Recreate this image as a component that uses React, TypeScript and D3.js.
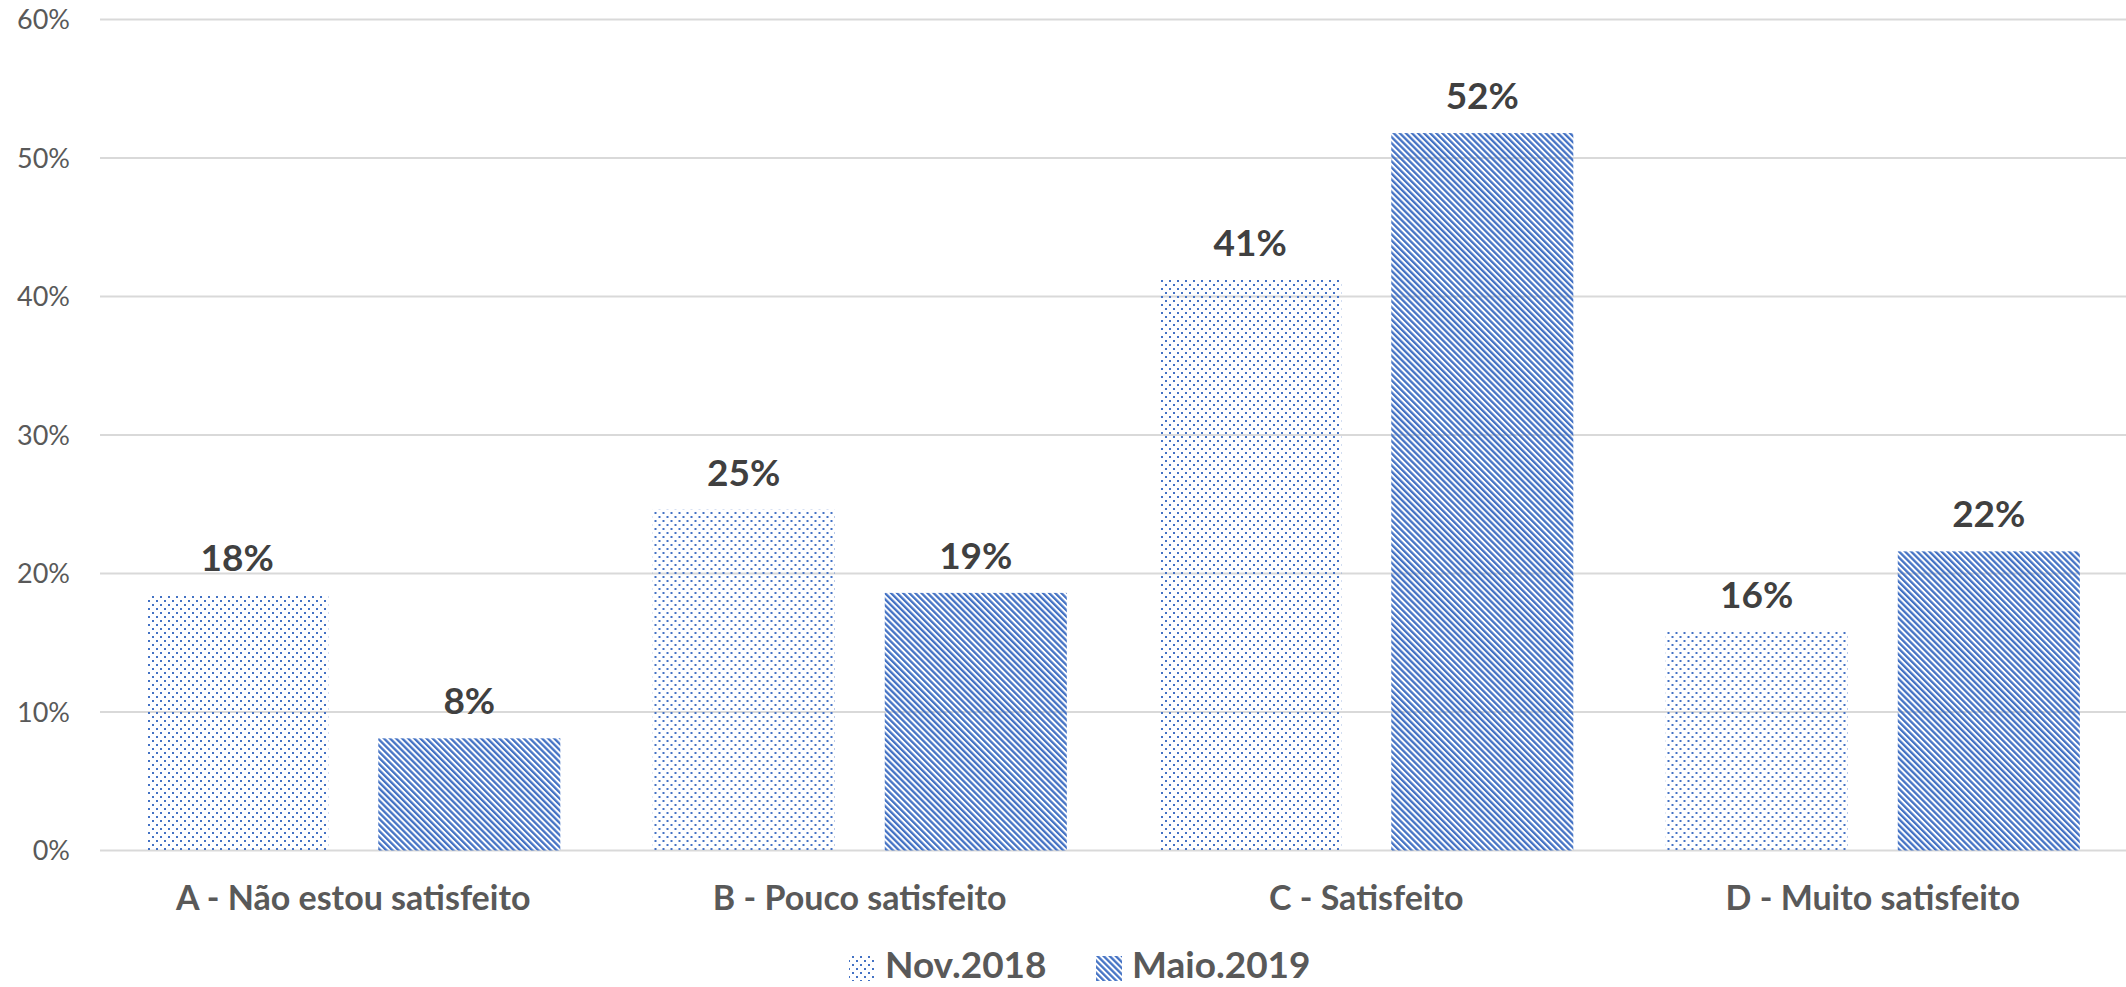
import * as d3 from "d3";
import * as React from "react";

// survey answers, share of respondents
const categories = [
  "A - Não estou satisfeito",
  "B - Pouco satisfeito",
  "C - Satisfeito",
  "D - Muito satisfeito",
];
const seriesNames = ["Nov.2018", "Maio.2019"];
const nov2018 = [0.1845, 0.246, 0.412, 0.158];
const maio2019 = [0.081, 0.186, 0.518, 0.216];
const yTicks = [0, 0.1, 0.2, 0.3, 0.4, 0.5, 0.6];

const W = 2126;
const H = 987;
const left = 100;
const top = 19.5;
const bottom = 850.5;
const blue = "#4472C4";
const font = "Lato, 'Open Sans', sans-serif";

export default function App() {
  const x = d3.scaleBand<string>().domain(categories).range([left, W]);
  const xs = d3
    .scaleBand<string>()
    .domain(seriesNames)
    .range([0, x.bandwidth()])
    .paddingInner(0.2155)
    .paddingOuter(0.199);
  const y = d3.scaleLinear().domain([0, 0.6]).range([bottom, top]);
  const fmt = d3.format(".0%");
  const series = [nov2018, maio2019];
  const fills = ["url(#dots)", "url(#diag)"];

  return (
    <div style={{ position: "absolute", left: 0, top: 0 }}>
      <svg width={W} height={H} style={{ display: "block", background: "#fff" }}>
        <defs>
          <pattern id="dots" width={8} height={8} patternUnits="userSpaceOnUse">
            <rect x={0} y={0} width={2} height={2} fill={blue} />
            <rect x={4} y={4} width={2} height={2} fill={blue} />
          </pattern>
          <pattern
            id="diag"
            width={4.3}
            height={8}
            patternUnits="userSpaceOnUse"
            patternTransform="rotate(-45)"
          >
            <rect x={0} y={0} width={2.3} height={8} fill={blue} />
          </pattern>
        </defs>

        {/* gridlines + y axis labels */}
        {yTicks.map((t) => (
          <g key={t}>
            <line x1={left} x2={W} y1={y(t)} y2={y(t)} stroke="#d9d9d9" strokeWidth={2} />
            <text
              x={70}
              y={y(t)}
              dy="0.36em"
              textAnchor="end"
              fontFamily={font}
              fontSize={27}
              fill="#595959"
            >
              {fmt(t)}
            </text>
          </g>
        ))}

        {/* bars */}
        {categories.map((c, i) => (
          <g key={c} transform={`translate(${x(c)},0)`}>
            {series.map((s, j) => {
              const bx = xs(seriesNames[j])!;
              const v = s[i];
              return (
                <g key={j}>
                  <rect
                    x={bx}
                    y={y(v)}
                    width={xs.bandwidth()}
                    height={bottom - y(v)}
                    fill={fills[j]}
                  />
                  <text
                    x={bx + xs.bandwidth() / 2}
                    y={y(v) - 24}
                    textAnchor="middle"
                    fontFamily={font}
                    fontWeight="bold"
                    fontSize={37}
                    fill="#404040"
                  >
                    {fmt(v)}
                  </text>
                </g>
              );
            })}
            <text
              x={x.bandwidth() / 2}
              y={910}
              textAnchor="middle"
              fontFamily={font}
              fontWeight="bold"
              fontSize={34}
              fill="#595959"
            >
              {c}
            </text>
          </g>
        ))}

        {/* legend */}
        {seriesNames.map((n, j) => {
          const lx = [849, 1096][j];
          return (
            <g key={n}>
              <rect x={lx} y={956} width={26} height={25} fill={fills[j]} />
              <text
                x={lx + 36}
                y={978}
                fontFamily={font}
                fontWeight="bold"
                fontSize={37}
                fill="#595959"
              >
                {n}
              </text>
            </g>
          );
        })}
      </svg>
    </div>
  );
}
